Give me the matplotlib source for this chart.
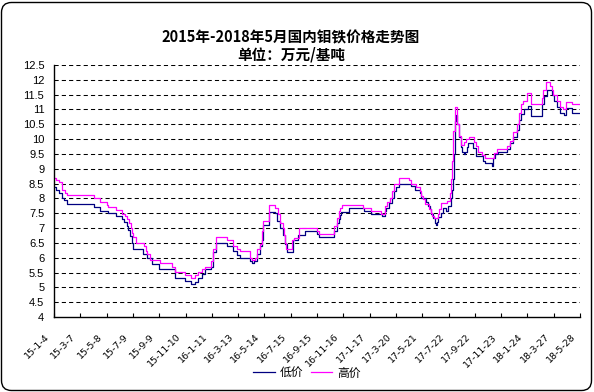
import matplotlib
matplotlib.use("Agg")
import numpy as np
import matplotlib.pyplot as plt
from matplotlib.patches import FancyBboxPatch
from matplotlib.transforms import ScaledTranslation, IdentityTransform

# =========================
# DATA
# position is measured in label intervals along the date axis
# =========================

X_LABELS = ["15-1-4", "15-3-7", "15-5-8", "15-7-9", "15-9-9", "15-11-10",
            "16-1-11", "16-3-13", "16-5-14", "16-7-15", "16-9-15", "16-11-16",
            "17-1-17", "17-3-20", "17-5-21", "17-7-22", "17-9-22", "17-11-23",
            "18-1-24", "18-3-27", "18-5-28"]

LOW_T = [0.00, 0.08, 0.20, 0.30, 0.38, 0.48, 1.53, 1.75, 2.07, 2.36,
         2.57, 2.66, 2.76, 2.83, 2.89, 2.95, 3.02, 3.40, 3.55, 3.71,
         4.00, 4.60, 4.98, 5.21, 5.36, 5.49, 5.61, 5.74, 5.97, 6.06,
         6.16, 6.57, 6.79, 6.95, 7.07, 7.45, 7.52, 7.60, 7.71, 7.83,
         7.90, 7.95, 8.18, 8.42, 8.48, 8.61, 8.70, 8.77, 8.85, 9.07,
         9.29, 9.54, 10.01, 10.09, 10.65, 10.75, 10.82, 10.87, 10.92, 11.20,
         11.77, 12.05, 12.47, 12.57, 12.64, 12.73, 12.85, 12.93, 13.02, 13.11,
         13.59, 13.71, 13.90, 13.97, 14.16, 14.22, 14.28, 14.35, 14.41, 14.47,
         14.51, 14.56, 14.60, 14.73, 14.80, 14.92, 14.98, 15.08, 15.13, 15.17,
         15.20, 15.24, 15.26, 15.28, 15.34, 15.39, 15.46, 15.53, 15.58, 15.64,
         15.69, 15.75, 15.95, 16.05, 16.32, 16.40, 16.64, 16.68, 16.77, 16.89,
         17.21, 17.34, 17.46, 17.59, 17.68, 17.74, 17.87, 18.03, 18.13, 18.54,
         18.63, 18.73, 18.92, 19.01, 19.11, 19.24, 19.39, 19.46, 19.68, 20.00]
LOW_V = [8.39, 8.30, 8.19, 8.02, 7.93, 7.80, 7.70, 7.57, 7.50, 7.39,
         7.30, 7.19, 7.08, 6.95, 6.72, 6.50, 6.30, 6.13, 6.00, 5.80,
         5.61, 5.30, 5.22, 5.11, 5.19, 5.30, 5.44, 5.61, 5.70, 6.20,
         6.50, 6.41, 6.22, 6.10, 6.00, 5.89, 5.81, 5.89, 6.11, 6.39,
         6.61, 7.10, 7.55, 7.50, 7.24, 7.00, 6.78, 6.47, 6.20, 6.60,
         6.77, 6.90, 6.80, 6.69, 6.90, 7.16, 7.30, 7.44, 7.55, 7.67,
         7.57, 7.47, 7.41, 7.58, 7.69, 7.85, 8.00, 8.25, 8.39, 8.50,
         8.42, 8.30, 8.19, 8.02, 7.89, 7.74, 7.63, 7.49, 7.33, 7.17,
         7.09, 7.22, 7.36, 7.51, 7.69, 7.58, 7.74, 8.02, 8.30, 8.64,
         9.50, 9.83, 10.60, 10.80, 10.50, 10.06, 9.72, 9.58, 9.50, 9.58,
         9.72, 9.88, 9.70, 9.44, 9.25, 9.18, 9.10, 9.35, 9.50, 9.58,
         9.66, 9.86, 10.06, 10.30, 10.64, 10.85, 11.01, 11.12, 10.78, 11.20,
         11.46, 11.66, 11.50, 11.30, 11.09, 10.87, 10.80, 11.06, 10.89, 10.89]

HIGH_T = [0.00, 0.08, 0.18, 0.29, 0.42, 0.51, 1.53, 1.75, 2.00, 2.07,
          2.36, 2.57, 2.70, 2.79, 2.86, 2.91, 2.95, 3.02, 3.12, 3.43,
          3.50, 3.55, 3.65, 4.03, 4.50, 4.60, 4.98, 5.21, 5.36, 5.49,
          5.61, 5.74, 5.97, 6.06, 6.16, 6.57, 6.79, 6.95, 7.07, 7.45,
          7.52, 7.64, 7.71, 7.83, 7.90, 7.95, 8.16, 8.42, 8.52, 8.61,
          8.70, 8.76, 8.80, 8.84, 9.06, 9.13, 9.30, 10.01, 10.09, 10.65,
          10.76, 10.82, 10.89, 10.94, 11.76, 12.04, 12.45, 12.57, 12.60, 12.67,
          12.78, 12.85, 12.93, 13.11, 13.49, 13.59, 13.78, 13.90, 13.97, 14.03,
          14.12, 14.25, 14.32, 14.39, 14.45, 14.60, 14.64, 14.73, 14.94, 15.07,
          15.11, 15.13, 15.18, 15.24, 15.31, 15.34, 15.39, 15.46, 15.60, 15.67,
          15.77, 15.97, 16.05, 16.11, 16.26, 16.39, 16.74, 16.83, 17.21, 17.34,
          17.44, 17.59, 17.68, 17.74, 17.84, 17.97, 18.13, 18.54, 18.60, 18.70,
          18.86, 18.92, 18.98, 19.11, 19.24, 19.37, 19.46, 19.68, 20.00]
HIGH_V = [8.69, 8.62, 8.55, 8.30, 8.19, 8.10, 8.02, 7.88, 7.79, 7.70,
          7.60, 7.48, 7.40, 7.29, 7.17, 7.00, 6.84, 6.69, 6.50, 6.39,
          6.22, 6.11, 5.91, 5.81, 5.70, 5.52, 5.41, 5.30, 5.41, 5.52,
          5.61, 5.70, 5.89, 6.31, 6.71, 6.61, 6.41, 6.31, 6.22, 6.00,
          5.91, 6.00, 6.31, 6.45, 6.89, 7.25, 7.78, 7.68, 7.46, 7.17,
          7.00, 6.78, 6.50, 6.30, 6.60, 6.68, 7.00, 6.90, 6.79, 7.06,
          7.34, 7.56, 7.67, 7.78, 7.67, 7.58, 7.49, 7.58, 7.74, 7.89,
          8.00, 8.25, 8.50, 8.70, 8.61, 8.50, 8.39, 8.25, 8.08, 7.97,
          7.80, 7.63, 7.52, 7.41, 7.33, 7.47, 7.63, 7.85, 7.92, 8.19,
          8.64, 9.27, 10.28, 11.07, 10.89, 10.50, 10.10, 9.80, 9.90, 10.00,
          10.06, 9.90, 9.76, 9.55, 9.45, 9.37, 9.52, 9.66, 9.78, 9.92,
          10.25, 10.50, 10.87, 11.20, 11.30, 11.55, 11.20, 11.40, 11.66, 11.94,
          11.80, 11.66, 11.49, 11.30, 11.09, 11.00, 11.26, 11.18, 11.18]

Y_TICKS = np.arange(4, 12.51, 0.5)

# =========================
# FIGURE
# =========================

plt.rcParams['font.family'] = ['Noto Sans CJK SC', 'DejaVu Sans']

fig = plt.figure(figsize=(5.94, 3.92), dpi=100)
ax = fig.add_axes([54 / 594, 1 - 317 / 392, 526 / 594, 252 / 392])

# dashed grid
for v in Y_TICKS[1:]:
    ax.axhline(v, color='black', lw=0.75, ls=(0, (4, 3)), zorder=0)

ax.step(LOW_T, LOW_V, where='post', color='#000080', lw=0.9, label='低价')
ax.step(HIGH_T, HIGH_V, where='post', color='#FF00FF', lw=0.9, label='高价')

ax.set_xlim(0, 20)
ax.set_ylim(4, 12.5)

ax.set_yticks(Y_TICKS, [f"{v:g}" for v in Y_TICKS],
              fontfamily='Liberation Sans', fontsize=8)
ax.tick_params(axis='y', length=0, pad=7)

ax.set_xticks(range(len(X_LABELS)), X_LABELS, rotation=45, ha='right',
              va='top', rotation_mode='anchor', fontsize=6.8,
              fontfamily='DejaVu Sans')
ax.tick_params(axis='x', direction='in', length=3, pad=11)
shift = ScaledTranslation(-0.09, 0, fig.dpi_scale_trans)
for lab in ax.get_xticklabels():
    lab.set_transform(lab.get_transform() + shift)

for side in ['top', 'right']:
    ax.spines[side].set_visible(False)
for side in ['left', 'bottom']:
    ax.spines[side].set_linewidth(1.0)

# titles
fig.text(0.49, 1 - 37 / 392, "2015年-2018年5月国内钼铁价格走势图",
         ha='center', va='center', fontsize=10.5, fontweight='bold')
fig.text(0.49, 1 - 55 / 392, "单位：万元/基吨",
         ha='center', va='center', fontsize=10.5, fontweight='bold')

fig.legend(loc='center', bbox_to_anchor=(307 / 594, 1 - 373 / 392), ncol=2,
           frameon=False, fontsize=8.5, handlelength=1.8, handletextpad=0.4,
           columnspacing=0.7)

# rounded outer frame
frame = FancyBboxPatch((1.5, 1.5), 590, 388,
                       boxstyle='round,pad=0,rounding_size=10',
                       transform=IdentityTransform(), fill=False,
                       edgecolor='black', lw=1.0)
fig.add_artist(frame)

fig.savefig("out.png", dpi=100)
